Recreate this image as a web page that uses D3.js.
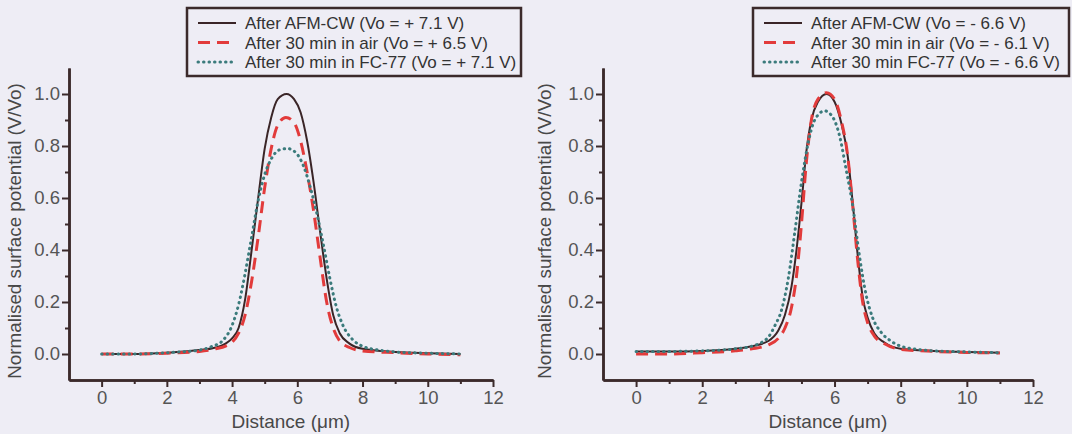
<!DOCTYPE html>
<html>
<head>
<meta charset="utf-8">
<script src="https://cdn.jsdelivr.net/npm/d3@7"></script>
<style>
  body { margin: 0; background: #eeedf5; }
  svg { display: block; font-family: Arial, "Liberation Sans", Helvetica, sans-serif; }
  svg text { font-family: Arial, "Liberation Sans", Helvetica, sans-serif; }
</style>
</head>
<body>
<div id="chart"></div>
<script>
// data, [distance um, V/Vo]
const leftCw = [[0,0],[1,0],[2,0.005],[3,0.015],[3.5,0.025],[3.8,0.04],[4,0.06],[4.2,0.1],[4.4,0.21],[4.6,0.4],[4.8,0.6],[5,0.79],[5.2,0.91],[5.4,0.98],[5.67,1],[5.9,0.98],[6.1,0.93],[6.3,0.82],[6.5,0.66],[6.7,0.47],[6.9,0.29],[7.1,0.15],[7.3,0.08],[7.6,0.04],[8,0.02],[9,0.008],[10,0.003],[11,0]];
const leftAir = [[0,0],[1,0],[2,0.003],[3,0.01],[3.5,0.02],[3.8,0.03],[4,0.045],[4.2,0.08],[4.4,0.15],[4.6,0.28],[4.8,0.45],[5,0.64],[5.2,0.79],[5.4,0.88],[5.65,0.91],[5.9,0.89],[6.1,0.82],[6.3,0.7],[6.5,0.55],[6.7,0.37],[6.9,0.2],[7.1,0.1],[7.3,0.05],[7.6,0.025],[8,0.012],[9,0.005],[10,0],[11,-0.003]];
const leftFc = [[0,0],[1,0],[2,0.005],[3,0.015],[3.4,0.03],[3.7,0.05],[4,0.11],[4.2,0.19],[4.4,0.31],[4.6,0.45],[4.8,0.59],[5,0.69],[5.2,0.75],[5.45,0.785],[5.7,0.79],[5.95,0.775],[6.2,0.72],[6.4,0.64],[6.6,0.54],[6.8,0.42],[7,0.29],[7.2,0.18],[7.4,0.11],[7.7,0.055],[8,0.03],[8.5,0.015],[9,0.008],[10,0.003],[11,0]];

const rightCw = [[0,0.01],[1,0.01],[2,0.012],[3,0.02],[3.5,0.03],[4,0.05],[4.3,0.09],[4.5,0.15],[4.7,0.26],[4.85,0.4],[5,0.58],[5.15,0.78],[5.3,0.9],[5.5,0.97],[5.76,1],[6,0.97],[6.2,0.89],[6.4,0.76],[6.55,0.58],[6.7,0.38],[6.85,0.22],[7,0.14],[7.2,0.08],[7.5,0.045],[8,0.02],[9,0.012],[10,0.008],[11,0.005]];
const rightAir = [[0,0],[1,0],[2,0.005],[3,0.012],[3.5,0.02],[4,0.035],[4.3,0.06],[4.5,0.1],[4.7,0.18],[4.85,0.3],[5,0.5],[5.15,0.74],[5.3,0.9],[5.5,0.98],[5.76,1.005],[6,0.98],[6.2,0.9],[6.4,0.76],[6.55,0.57],[6.7,0.36],[6.85,0.2],[7,0.12],[7.2,0.07],[7.5,0.04],[8,0.018],[9,0.01],[10,0.006],[11,0.004]];
const rightFc = [[0,0.01],[1,0.01],[2,0.012],[3,0.02],[3.5,0.03],[3.8,0.045],[4,0.065],[4.2,0.11],[4.4,0.17],[4.6,0.29],[4.8,0.47],[5,0.66],[5.2,0.81],[5.4,0.9],[5.7,0.935],[5.95,0.91],[6.15,0.84],[6.35,0.71],[6.55,0.57],[6.75,0.38],[6.95,0.23],[7.15,0.14],[7.4,0.085],[7.7,0.05],[8,0.03],[8.5,0.018],[9,0.012],[10,0.008],[11,0.005]];

const leftLabels = ["After AFM-CW (Vo = + 7.1 V)", "After 30 min in air (Vo = + 6.5 V)", "After 30 min in FC-77 (Vo = + 7.1 V)"];
const rightLabels = ["After AFM-CW (Vo = - 6.6 V)", "After 30 min in air (Vo = - 6.1 V)", "After 30 min FC-77 (Vo = - 6.6 V)"];

const xTicks = [0, 2, 4, 6, 8, 10, 12];
const xMinor = [1, 3, 5, 7, 9, 11];
const yTicks = [0, 0.2, 0.4, 0.6, 0.8, 1.0];
const yMinor = [0.1, 0.3, 0.5, 0.7, 0.9];

const width = 1072, height = 434;
const axisColor = "#3b2a2b";
const styles = [
  {color: "#3a2527", width: 2, dash: null, cap: "butt"},
  {color: "#e23b3b", width: 3, dash: "12 7", cap: "butt"},
  {color: "#3b7b7c", width: 3, dash: "0.5 5", cap: "round"}
];

const svg = d3.select("#chart").append("svg")
    .attr("width", width)
    .attr("height", height);

function drawPanel(opts) {
  const x = d3.scaleLinear().domain([-1, 12]).range([opts.x0, opts.x1]);
  const y = d3.scaleLinear().domain([-0.1, 1.1]).range([380, 68]);

  const line = d3.line()
      .x(d => x(d[0]))
      .y(d => y(d[1]))
      .curve(d3.curveMonotoneX);

  opts.series.forEach((s, i) => {
    svg.append("path")
        .datum(s)
        .attr("fill", "none")
        .attr("stroke", styles[i].color)
        .attr("stroke-width", styles[i].width)
        .attr("stroke-dasharray", styles[i].dash)
        .attr("stroke-linecap", styles[i].cap)
        .attr("d", line);
  });

  // minor ticks
  svg.append("g")
      .attr("transform", `translate(0, ${y(-0.1)})`)
      .call(d3.axisBottom(x).tickValues(xMinor).tickFormat("").tickSize(4).tickSizeOuter(0));
  svg.append("g")
      .attr("transform", `translate(${x(-1)}, 0)`)
      .call(d3.axisLeft(y).tickValues(yMinor).tickFormat("").tickSize(4).tickSizeOuter(0));

  const xAxis = svg.append("g")
      .attr("transform", `translate(0, ${y(-0.1)})`)
      .call(d3.axisBottom(x).tickValues(xTicks).tickFormat(d3.format("d")).tickSize(7).tickSizeOuter(0).tickPadding(4));
  const yAxis = svg.append("g")
      .attr("transform", `translate(${x(-1)}, 0)`)
      .call(d3.axisLeft(y).tickValues(yTicks).tickFormat(d3.format(".1f")).tickSize(7).tickSizeOuter(0).tickPadding(2));

  svg.selectAll(".domain").attr("stroke", axisColor).attr("stroke-width", 2.5);
  svg.selectAll(".tick line").attr("stroke", axisColor).attr("stroke-width", 2);
  [xAxis, yAxis].forEach(g => g.attr("font-family", null).attr("font-size", null)
      .selectAll("text")
      .attr("fill", "#555")
      .style("font-size", "18.5px"));

  svg.append("text")
      .attr("x", x(5.8))
      .attr("y", 428)
      .attr("text-anchor", "middle")
      .attr("fill", "#484848")
      .style("font-size", "19px")
      .text("Distance (\u03bcm)");

  svg.append("text")
      .attr("transform", `translate(${opts.titleX}, 231) rotate(-90)`)
      .attr("text-anchor", "middle")
      .attr("fill", "#484848")
      .style("font-size", "18.8px")
      .text("Normalised surface potential (V/Vo)");

  // legend
  const lg = opts.legend;
  svg.append("rect")
      .attr("x", lg.x).attr("y", 8)
      .attr("width", lg.w).attr("height", 68)
      .attr("fill", "none")
      .attr("stroke", axisColor)
      .attr("stroke-width", 2.5);
  opts.labels.forEach((t, i) => {
    const ry = 23 + i * 19.5;
    svg.append("line")
        .attr("x1", lg.x + 11).attr("x2", lg.x + 49)
        .attr("y1", ry).attr("y2", ry)
        .attr("stroke", styles[i].color)
        .attr("stroke-width", styles[i].width)
        .attr("stroke-dasharray", styles[i].dash)
        .attr("stroke-linecap", styles[i].cap);
    svg.append("text")
        .attr("x", lg.x + 58)
        .attr("y", ry + 6)
        .attr("fill", "#333")
        .style("font-size", "17px")
        .text(t);
  });
}

drawPanel({x0: 69, x1: 493, titleX: 21, series: [leftCw, leftAir, leftFc],
           labels: leftLabels, legend: {x: 187, w: 334}});
drawPanel({x0: 603, x1: 1033, titleX: 551, series: [rightCw, rightAir, rightFc],
           labels: rightLabels, legend: {x: 753, w: 316}});
</script>
</body>
</html>
